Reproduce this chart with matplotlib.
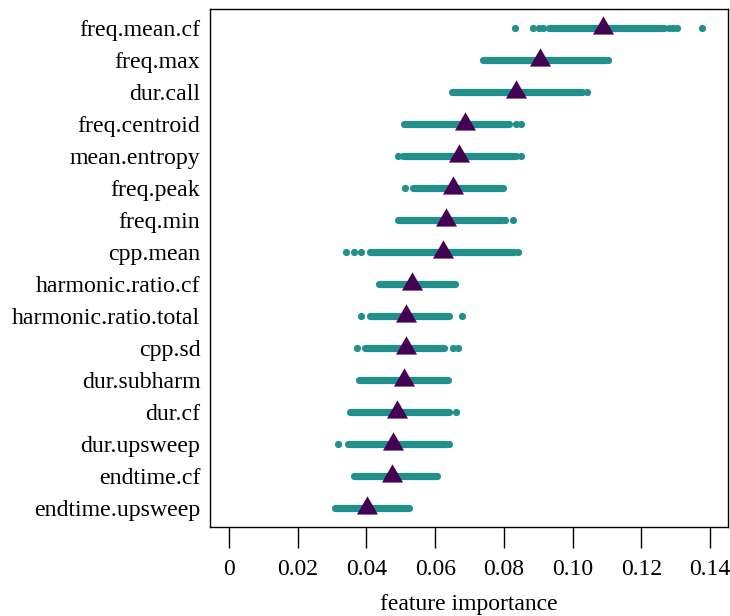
import matplotlib
matplotlib.use("Agg")
import matplotlib.pyplot as plt

plt.rcParams['font.family'] = ['Liberation Serif', 'DejaVu Serif']
plt.rcParams['font.size'] = 17

# features, top to bottom
features = ['freq.mean.cf', 'freq.max', 'dur.call', 'freq.centroid',
            'mean.entropy', 'freq.peak', 'freq.min', 'cpp.mean',
            'harmonic.ratio.cf', 'harmonic.ratio.total', 'cpp.sd',
            'dur.subharm', 'dur.cf', 'dur.upsweep', 'endtime.cf',
            'endtime.upsweep']

# dense part of each strip (start, end)
band_lo = [0.0930, 0.0738, 0.0649, 0.0508, 0.0506, 0.0535, 0.0493, 0.0410,
           0.0437, 0.0410, 0.0395, 0.0378, 0.0353, 0.0345, 0.0363, 0.0307]
band_hi = [0.1265, 0.1090, 0.1020, 0.0815, 0.0836, 0.0796, 0.0795, 0.0830,
           0.0658, 0.0640, 0.0625, 0.0636, 0.0640, 0.0632, 0.0606, 0.0523]

# separate points outside the dense part
extra_pts = [
    [0.0831, 0.0885, 0.0902, 0.0915, 0.1280, 0.1292, 0.1305, 0.1375],
    [0.1092, 0.1102],
    [0.1028, 0.1043],
    [0.0836, 0.0849],
    [0.0491, 0.0850],
    [0.0511],
    [0.0802, 0.0826],
    [0.0341, 0.0363, 0.0385, 0.0841],
    [],
    [0.0385, 0.0678],
    [0.0373, 0.0652, 0.0665],
    [],
    [0.0660],
    [0.0318, 0.0640],
    [],
    [],
]

# mean importance (triangles)
means = [0.1087, 0.0905, 0.0836, 0.0686, 0.0668, 0.0652, 0.0632, 0.0622,
         0.0533, 0.0516, 0.0514, 0.0508, 0.0488, 0.0476, 0.0473, 0.0402]

xticks = [0, 0.02, 0.04, 0.06, 0.08, 0.10, 0.12, 0.14]
xtick_labels = ['0', '0.02', '0.04', '0.06', '0.08', '0.10', '0.12', '0.14']

teal = '#21908C'
purple = '#440154'

fig = plt.figure(figsize=(7.3, 6.16), dpi=100)
ax = fig.add_axes([210 / 730, 89 / 616, 518 / 730, 518 / 616])

rows = list(range(1, len(features) + 1))
dot = 5.2
for i, r in enumerate(rows):
    ax.plot([band_lo[i], band_hi[i]], [r, r], color=teal, lw=dot,
            solid_capstyle='round', zorder=2)
    if extra_pts[i]:
        ax.plot(extra_pts[i], [r] * len(extra_pts[i]), 'o', color=teal,
                ms=dot, mew=0, zorder=2)

# R-style filled triangle (centred on the centroid)
tri = [(0, 1), (-0.866, -0.5), (0.866, -0.5)]
ax.plot(means, rows, linestyle='none', marker=tri, ms=17.5, color=purple,
        mew=0, zorder=3)

ax.set_xlim(-0.00553, 0.1452)
ax.set_ylim(16.6, 0.4)
ax.set_yticks(rows)
ax.set_yticklabels(features, fontsize=17.2)
ax.tick_params(axis='y', length=0, pad=7)
ax.set_xticks(xticks)
ax.set_xticklabels(xtick_labels)
ax.tick_params(axis='x', direction='out', length=15, width=1, pad=8)
ax.set_xlabel('feature importance', labelpad=10)
for s in ax.spines.values():
    s.set_linewidth(1.0)

fig.savefig('out.png', dpi=100)
